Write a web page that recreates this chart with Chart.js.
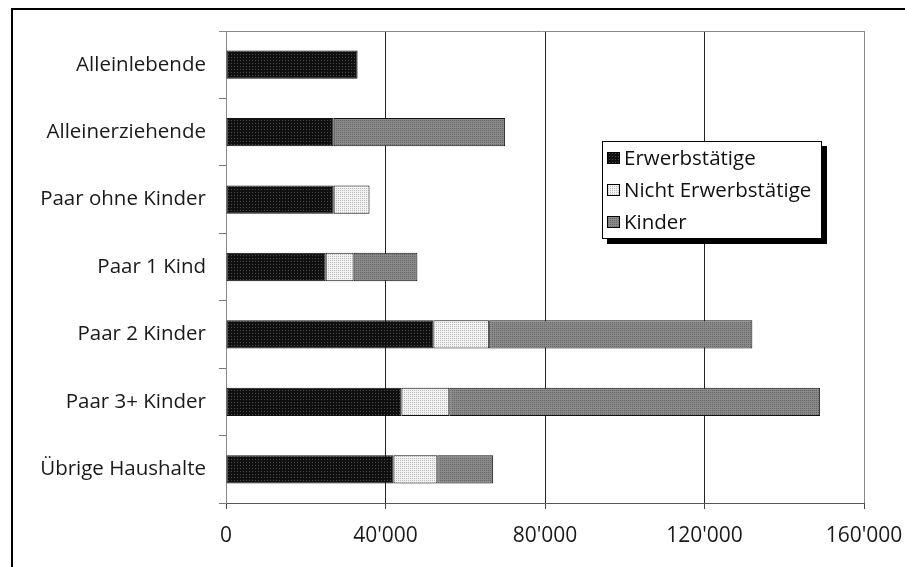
<!DOCTYPE html>
<html>
<head>
<meta charset="utf-8">
<script src="https://cdn.jsdelivr.net/npm/chart.js@4/dist/chart.umd.min.js"></script>
<style>
  html, body { margin: 0; padding: 0; background: #fff; }
  canvas { display: block; }
</style>
</head>
<body>
<canvas id="chart" width="905" height="567"></canvas>
<script>
// Household types and income components (CHF per year)
const categories = [
  'Alleinlebende',
  'Alleinerziehende',
  'Paar ohne Kinder',
  'Paar 1 Kind',
  'Paar 2 Kinder',
  'Paar 3+ Kinder',
  'Übrige Haushalte'
];
const seriesNames = ['Erwerbstätige', 'Nicht Erwerbstätige', 'Kinder'];
const erwerbstaetige      = [33000, 27000, 27000, 25000, 52000, 44000, 42000];
const nichtErwerbstaetige = [0, 0, 9000, 7000, 14000, 12000, 11000];
const kinder              = [0, 43000, 0, 16000, 66000, 93000, 14000];
const xTicks = [0, 40000, 80000, 120000, 160000];

const FONT = '"Open Sans", "Noto Sans", sans-serif';

// Small dotted fill patterns, like a monochrome print
function dotPattern(bg, dot, size) {
  const c = document.createElement('canvas');
  c.width = size; c.height = size;
  const g = c.getContext('2d');
  g.fillStyle = bg; g.fillRect(0, 0, size, size);
  g.fillStyle = dot; g.fillRect(0, 0, 1, 1);
  return g.createPattern(c, 'repeat');
}
const fills = [
  dotPattern('#101010', '#4a4a4a', 3),
  dotPattern('#f2f2f2', '#bcbcbc', 2),
  dotPattern('#8a8a8a', '#666666', 2)
];

function fmt(v) {
  return String(v).replace(/\B(?=(\d{3})+(?!\d))/g, "'");
}

// Outer frame (left and top edge) and the plot's top edge
const framePlugin = {
  id: 'frame',
  beforeDraw(chart) {
    const ctx = chart.ctx;
    ctx.save();
    ctx.fillStyle = '#fff';
    ctx.fillRect(0, 0, chart.width, chart.height);
    ctx.strokeStyle = '#000';
    ctx.lineWidth = 2;
    ctx.beginPath();
    ctx.moveTo(12, chart.height);
    ctx.lineTo(12, 9);
    ctx.lineTo(chart.width, 9);
    ctx.stroke();
    ctx.restore();
  },
  afterDatasetsDraw(chart) {
    const a = chart.chartArea, ctx = chart.ctx;
    ctx.save();
    ctx.strokeStyle = '#8a8a8a';
    ctx.lineWidth = 1;
    ctx.beginPath();
    ctx.moveTo(a.left - 7, a.top + 0.5);
    ctx.lineTo(a.right, a.top + 0.5);
    ctx.stroke();
    ctx.restore();
  }
};

// Boxed legend with a drop shadow, inside the plot area
const boxLegend = {
  id: 'boxLegend',
  afterDraw(chart) {
    const ctx = chart.ctx;
    const x = 602, y = 141, w = 220, h = 98, sh = 5;
    ctx.save();
    ctx.fillStyle = '#000';
    ctx.fillRect(x + sh, y + sh, w, h);
    ctx.fillStyle = '#fff';
    ctx.fillRect(x, y, w, h);
    ctx.strokeStyle = '#000';
    ctx.lineWidth = 1;
    ctx.strokeRect(x + 0.5, y + 0.5, w - 1, h - 1);
    ctx.font = '20.5px ' + FONT;
    ctx.textBaseline = 'middle';
    chart.data.datasets.forEach((ds, i) => {
      const cy = y + 17 + i * 32;
      ctx.fillStyle = ds.backgroundColor;
      ctx.fillRect(607, cy - 6, 13, 12);
      ctx.strokeStyle = '#000';
      ctx.strokeRect(607.5, cy - 5.5, 12, 11);
      ctx.fillStyle = '#111';
      ctx.fillText(ds.label, 624, cy + 1);
    });
    ctx.restore();
  }
};

const seriesValues = [erwerbstaetige, nichtErwerbstaetige, kinder];

new Chart(document.getElementById('chart'), {
  type: 'bar',
  data: {
    labels: categories,
    datasets: seriesNames.map((name, i) => ({
      label: name,
      data: seriesValues[i],
      backgroundColor: fills[i],
      borderColor: '#111',
      borderWidth: 1,
      borderSkipped: false,
      categoryPercentage: 1,
      barPercentage: 0.42
    }))
  },
  options: {
    indexAxis: 'y',
    responsive: false,
    animation: false,
    devicePixelRatio: 1,
    layout: { padding: { top: 31, right: 41, left: 0, bottom: 0 } },
    plugins: {
      legend: { display: false },
      tooltip: { enabled: false }
    },
    scales: {
      x: {
        type: 'linear',
        stacked: true,
        min: 0,
        max: 160000,
        afterBuildTicks: (scale) => { scale.ticks = xTicks.map(v => ({ value: v })); },
        afterFit: (scale) => {
          scale.height = 64;
          scale.paddingLeft = 0;
          scale.paddingRight = 0;
        },
        ticks: {
          callback: (v) => fmt(v),
          font: { family: FONT, size: 21 },
          color: '#1a1a1a',
          padding: 14,
          maxRotation: 0
        },
        grid: {
          color: (c) => (c.tick && c.tick.value === 160000) ? '#8a8a8a' : '#222',
          tickColor: '#444',
          tickLength: 6,
          lineWidth: 1
        },
        border: { color: '#555', width: 1 }
      },
      y: {
        type: 'category',
        stacked: true,
        afterFit: (scale) => { scale.width = 226; },
        ticks: {
          font: { family: FONT, size: 20.5 },
          color: '#1a1a1a',
          padding: 13
        },
        grid: {
          drawOnChartArea: false,
          offset: true,
          tickLength: 7,
          color: '#777'
        },
        border: { color: '#8a8a8a', width: 1 }
      }
    }
  },
  plugins: [framePlugin, boxLegend]
});
</script>
</body>
</html>
